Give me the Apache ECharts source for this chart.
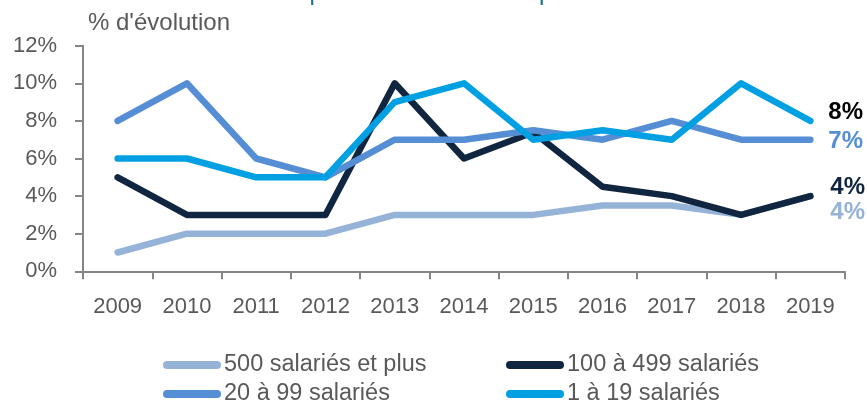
<!DOCTYPE html>
<html>
<head>
<meta charset="utf-8">
<script src="https://cdn.jsdelivr.net/npm/echarts@6/dist/echarts.min.js"></script>
<style>
  html, body { margin: 0; padding: 0; background: #ffffff; }
  #chart { width: 867px; height: 403px; }
</style>
</head>
<body>
<div id="chart"></div>
<script>
// Years on the horizontal axis
const years = ['2009', '2010', '2011', '2012', '2013', '2014', '2015', '2016', '2017', '2018', '2019'];

// Evolution in % by company size
const seriesNames = ['500 salariés et plus', '100 à 499 salariés', '20 à 99 salariés', '1 à 19 salariés'];
const plus500 = [1, 2, 2, 2, 3, 3, 3, 3.5, 3.5, 3, 4];
const from100to499 = [5, 3, 3, 3, 10, 6, 7.4, 4.5, 4, 3, 4];
const from20to99 = [8, 10, 6, 5, 7, 7, 7.5, 7, 8, 7, 7];
const from1to19 = [6, 6, 5, 5, 9, 10, 7, 7.5, 7, 10, 8];

// Y axis ticks
const yTicks = [0, 2, 4, 6, 8, 10, 12];

const FONT = '"Liberation Sans", Arial, sans-serif';
const GREY = '#595959';
const AXIS = '#868686';

const colors = ['#95B3D7', '#10253F', '#558ED5', '#00A0E2'];
const endLabelColors = ['#95B3D7', '#10253F', '#558ED5', '#000000'];
const endLabelOffsets = [[20, 16], [20, -9], [18, 2], [18, -9]];
const values = [plus500, from100to499, from20to99, from1to19];

const legendIcon = 'path://M4 0H54A4 4 0 0 1 54 8H4A4 4 0 0 1 4 0Z';

const chart = echarts.init(document.getElementById('chart'), null, { renderer: 'canvas' });

const series = values.map((vals, i) => ({
  name: seriesNames[i],
  type: 'line',
  data: vals,
  showSymbol: false,
  symbol: 'none',
  animation: false,
  color: colors[i],
  itemStyle: { color: colors[i] },
  lineStyle: { color: colors[i], width: 6.5, cap: 'round', join: 'round' },
  emphasis: { disabled: true },
  endLabel: {
    show: true,
    formatter: p => p.value + '%',
    color: endLabelColors[i],
    fontFamily: FONT,
    fontWeight: 'bold',
    fontSize: 24,
    distance: 0,
    offset: endLabelOffsets[i]
  }
}));

const legendBase = {
  orient: 'vertical',
  icon: legendIcon,
  itemWidth: 58,
  itemHeight: 8,
  itemGap: 5,
  padding: 0,
  height: 60,
  selectedMode: false,
  textStyle: { color: GREY, fontFamily: FONT, fontSize: 23.5, padding: [0, 0, 0, -2] }
};

chart.setOption({
  backgroundColor: '#ffffff',
  animation: false,
  title: {
    text: 'Les primes dans les entreprises',
    left: 'center',
    top: -24,
    textStyle: { color: '#1A6E8E', fontFamily: FONT, fontSize: 24, fontWeight: 'normal' }
  },
  grid: { left: 83, right: 22, top: 45.7, bottom: 131.7, containLabel: false },
  legend: [
    Object.assign({}, legendBase, { data: [seriesNames[0], seriesNames[2]], left: 163, top: 353 }),
    Object.assign({}, legendBase, { data: [seriesNames[1], seriesNames[3]], left: 506, top: 353 })
  ],
  xAxis: {
    type: 'category',
    data: years,
    boundaryGap: true,
    axisLine: { show: true, lineStyle: { color: AXIS, width: 2 } },
    axisTick: { show: true, length: 8, lineStyle: { color: AXIS, width: 2 } },
    axisLabel: { color: GREY, fontFamily: FONT, fontSize: 22, margin: 25 },
    splitLine: { show: false }
  },
  yAxis: {
    type: 'value',
    min: yTicks[0],
    max: yTicks[yTicks.length - 1],
    interval: yTicks[1] - yTicks[0],
    name: "% d'évolution",
    nameLocation: 'end',
    nameGap: 10,
    nameTextStyle: { color: GREY, fontFamily: FONT, fontSize: 24, align: 'left', padding: [0, 0, 0, 5] },
    axisLine: { show: true, lineStyle: { color: AXIS, width: 2 } },
    axisTick: { show: true, length: 8, lineStyle: { color: AXIS, width: 2 } },
    axisLabel: { color: GREY, fontFamily: FONT, fontSize: 22, margin: 26, formatter: '{value}%' },
    splitLine: { show: false }
  },
  series: series
});
</script>
</body>
</html>
